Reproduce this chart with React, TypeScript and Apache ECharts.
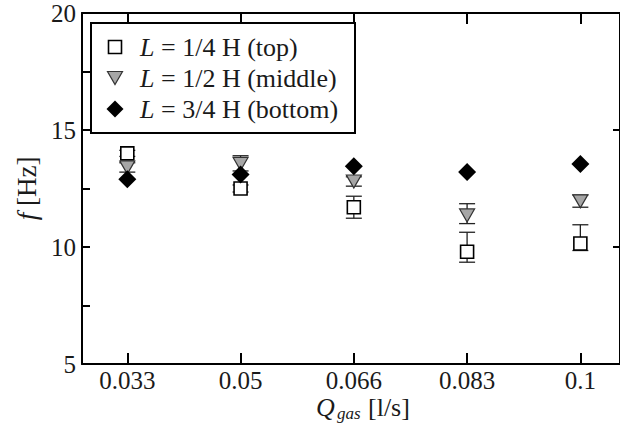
import React, { useEffect, useRef } from "react";
import * as echarts from "echarts";

const qLabels = ["0.033", "0.05", "0.066", "0.083", "0.1"];
const xPos = [1, 2, 3, 4, 5];

const topVals = [14.0, 12.5, 11.7, 9.8, 10.15];
const topErrLow = [0.13, 0.15, 0.47, 0.45, 0.3];
const topErrHigh = [0.13, 0.15, 0.47, 0.83, 0.8];

const midVals = [13.4, 13.55, 12.8, 11.35, 11.95];
const midErrLow = [0.2, 0.3, 0.2, 0.35, 0.25];
const midErrHigh = [0.2, 0.35, 0.2, 0.5, 0.27];

const botVals = [12.9, 13.1, 13.45, 13.2, 13.55];

const seriesNames = ["L = 1/4 H (top)", "L = 1/2 H (middle)", "L = 3/4 H (bottom)"];
const legendRest = ["= 1/4 H (top)", "= 1/2 H (middle)", "= 3/4 H (bottom)"];

const FONT = "Liberation Serif";
const TXT = "#1a1a1a";
const TRI_DOWN = "path://M0,0 L20,0 L10,17 Z";

function errData(vals: number[], lo: number[], hi: number[]) {
  return vals.map((v, i) => [xPos[i], v - lo[i], v + hi[i]]);
}

function errSeries(data: number[][]) {
  return {
    type: "custom",
    xAxisIndex: 0,
    yAxisIndex: 0,
    z: 1,
    silent: true,
    data,
    renderItem: (params: any, api: any) => {
      const x = api.value(0);
      const p1 = api.coord([x, api.value(1)]);
      const p2 = api.coord([x, api.value(2)]);
      const hw = 8;
      const style = { stroke: "#222", lineWidth: 1.3 };
      return {
        type: "group",
        children: [
          { type: "line", shape: { x1: p1[0], y1: p1[1], x2: p2[0], y2: p2[1] }, style },
          { type: "line", shape: { x1: p1[0] - hw, y1: p1[1], x2: p1[0] + hw, y2: p1[1] }, style },
          { type: "line", shape: { x1: p2[0] - hw, y1: p2[1], x2: p2[0] + hw, y2: p2[1] }, style },
        ],
      };
    },
  };
}

function txt(text: string, x: number, y: number, size: number, italic: boolean, align = "left") {
  return {
    type: "text",
    x,
    y,
    silent: true,
    z: 100,
    style: {
      text,
      fontFamily: FONT,
      fontStyle: italic ? "italic" : "normal",
      fontSize: size,
      fill: TXT,
      align,
      textAlign: align,
      verticalAlign: "middle",
      textVerticalAlign: "middle",
    },
  };
}

export default function App() {
  const ref = useRef<HTMLDivElement>(null);
  useEffect(() => {
    if (!ref.current) return;
    const chart = echarts.init(ref.current, null, { renderer: "svg" });
    const axisLine = { show: true, lineStyle: { color: "#000", width: 2 } };
    const option: any = {
      animation: false,
      backgroundColor: "#fff",
      textStyle: { fontFamily: FONT, fontStyle: "normal" },
      grid: { left: 82, right: -5, top: 13, bottom: 75 },
      xAxis: [
        {
          type: "value",
          position: "bottom",
          min: 0.6,
          max: 5.35,
          axisLine,
          splitLine: { show: false },
          axisTick: { show: true, inside: true, length: 11, customValues: xPos, lineStyle: { color: "#000", width: 2 } },
          axisLabel: { show: false },
        },
        {
          type: "value",
          position: "top",
          min: 0.6,
          max: 5.35,
          axisLine,
          splitLine: { show: false },
          axisTick: { show: true, inside: true, length: 11, customValues: xPos, lineStyle: { color: "#000", width: 2 } },
          axisLabel: { show: false },
        },
      ],
      yAxis: [
        {
          type: "value",
          position: "left",
          min: 5,
          max: 20,
          interval: 5,
          axisLine,
          splitLine: { show: false },
          axisTick: { show: true, inside: true, length: 8, lineStyle: { color: "#000", width: 2 } },
          minorTick: { show: true, splitNumber: 2, length: 8, lineStyle: { color: "#000", width: 2 } },
          axisLabel: { margin: 6, fontFamily: FONT, fontStyle: "normal", fontSize: 25, color: TXT },
          name: "{i|f} [Hz]",
          nameLocation: "middle",
          nameGap: 40,
          nameTextStyle: {
            fontFamily: FONT,
            fontStyle: "normal",
            fontSize: 27,
            color: TXT,
            rich: { i: { fontFamily: FONT, fontSize: 27, fontStyle: "italic", color: TXT } },
          },
        },
        {
          type: "value",
          position: "right",
          min: 5,
          max: 20,
          interval: 5,
          axisLine,
          splitLine: { show: false },
          axisTick: { show: true, inside: true, length: 7, lineStyle: { color: "#000", width: 2 } },
          axisLabel: { show: false },
        },
      ],
      series: [
        errSeries(errData(topVals, topErrLow, topErrHigh)),
        errSeries(errData(midVals, midErrLow, midErrHigh)),
        {
          name: seriesNames[0],
          type: "scatter",
          z: 3,
          symbol: "rect",
          symbolSize: 13,
          itemStyle: { color: "#fff", borderColor: "#000", borderWidth: 1.6, opacity: 1 },
          data: topVals.map((v, i) => [xPos[i], v]),
        },
        {
          name: seriesNames[1],
          type: "scatter",
          z: 3,
          symbol: TRI_DOWN,
          symbolSize: [15, 13],
          itemStyle: { color: "#a6a6a6", borderColor: "#333", borderWidth: 1.2, opacity: 1 },
          data: midVals.map((v, i) => [xPos[i], v]),
        },
        {
          name: seriesNames[2],
          type: "scatter",
          z: 4,
          symbol: "diamond",
          symbolSize: 18,
          itemStyle: { color: "#000", opacity: 1 },
          data: botVals.map((v, i) => [xPos[i], v]),
        },
      ],
    };
    chart.setOption(option);

    // Tick labels placed through the axis scale
    const yBase = chart.convertToPixel({ yAxisIndex: 0 }, 5) as number;
    const tickTexts = xPos.map((x, i) =>
      txt(qLabels[i], chart.convertToPixel({ xAxisIndex: 0 }, x) as number, yBase + 16, 25, false, "center")
    );

    // Axis title Q_gas [l/s]
    const nameY = yBase + 43;
    const nameTexts = [
      txt("Q", 316, nameY, 26, true),
      txt("gas", 337, nameY + 6, 17, true),
      txt("[l/s]", 368, nameY, 26, false),
    ];

    // Legend
    const lx = 91;
    const ly = 23;
    const rowY = [47, 78, 109];
    const iconX = 115;
    const legendEls: any[] = [
      {
        type: "rect",
        silent: true,
        z: 90,
        shape: { x: lx, y: ly, width: 264, height: 110 },
        style: { fill: "#fff", stroke: "#000", lineWidth: 2 },
      },
      {
        type: "rect",
        silent: true,
        z: 95,
        shape: { x: iconX - 6.5, y: rowY[0] - 6.5, width: 13, height: 13 },
        style: { fill: "#fff", stroke: "#000", lineWidth: 1.6 },
      },
      {
        type: "polygon",
        silent: true,
        z: 95,
        shape: { points: [[iconX - 7.5, rowY[1] - 6.5], [iconX + 7.5, rowY[1] - 6.5], [iconX, rowY[1] + 6.5]] },
        style: { fill: "#a6a6a6", stroke: "#333", lineWidth: 1.2 },
      },
      {
        type: "polygon",
        silent: true,
        z: 95,
        shape: { points: [[iconX, rowY[2] - 8.5], [iconX + 8.5, rowY[2]], [iconX, rowY[2] + 8.5], [iconX - 8.5, rowY[2]]] },
        style: { fill: "#000" },
      },
    ];
    rowY.forEach((y, i) => {
      legendEls.push(txt("L", 140, y, 26, true));
      legendEls.push(txt(legendRest[i], 161, y, 26, false));
    });

    chart.setOption({ graphic: [...legendEls, ...tickTexts, ...nameTexts] });
    return () => chart.dispose();
  }, []);
  return (
    <div
      ref={ref}
      style={{ position: "fixed", left: 0, top: 0, width: 620, height: 439, background: "#fff" }}
    />
  );
}
